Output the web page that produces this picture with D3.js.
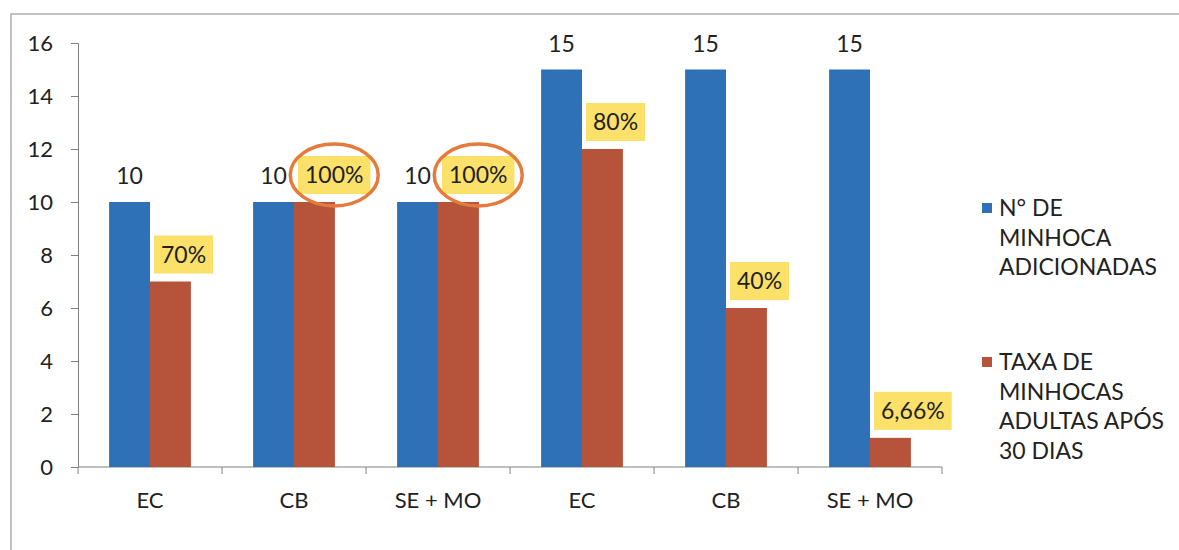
<!DOCTYPE html>
<html>
<head>
<meta charset="utf-8">
<script src="https://cdn.jsdelivr.net/npm/d3@7"></script>
<style>
  body { margin: 0; background: #fff; }
  svg { display: block; font-family: Lato, "Open Sans", sans-serif; }
</style>
</head>
<body>
<svg width="1179" height="550"></svg>
<script>
var categories = ['EC', 'CB', 'SE + MO', 'EC', 'CB', 'SE + MO'],
    added = [10, 10, 10, 15, 15, 15],
    adults = [7, 10, 10, 12, 6, 1.1],
    adultLabels = ['70%', '100%', '100%', '80%', '40%', '6,66%'],
    circled = [1, 2],
    yTicks = [0, 2, 4, 6, 8, 10, 12, 14, 16],
    seriesNames = [
        ['N° DE', 'MINHOCA', 'ADICIONADAS'],
        ['TAXA DE', 'MINHOCAS', 'ADULTAS APÓS', '30 DIAS']
    ];

var svg = d3.select('svg'),
    blue = '#2f71b6',
    red = '#b5533b',
    plotLeft = 78,
    plotRight = 942,
    plotTop = 43,
    plotBottom = 467;

// frame round the chart
svg.append('rect')
    .attr('x', 11).attr('y', 14)
    .attr('width', 1180).attr('height', 560)
    .attr('fill', 'none')
    .attr('stroke', '#999')
    .attr('stroke-width', 1.2);

var x = d3.scaleBand()
    .domain(d3.range(categories.length))
    .range([plotLeft, plotRight]);

var inner = d3.scaleBand()
    .domain([0, 1])
    .range([0, x.bandwidth()])
    .paddingOuter(0.76)
    .paddingInner(0);

var y = d3.scaleLinear()
    .domain([0, 16])
    .range([plotBottom, plotTop]);

// y axis
var yAxis = svg.append('g')
    .attr('transform', 'translate(' + plotLeft + ',0)')
    .call(d3.axisLeft(y).tickValues(yTicks).tickSize(7).tickPadding(18));
yAxis.select('.domain').attr('stroke', '#808080');
yAxis.selectAll('.tick line').attr('stroke', '#808080');
yAxis.selectAll('.tick text')
    .attr('font-size', 22)
    .attr('font-family', 'Lato, sans-serif')
    .attr('fill', '#222');

// x axis with ticks between the categories
var xAxis = svg.append('g')
    .attr('transform', 'translate(0,' + plotBottom + ')');
xAxis.append('line')
    .attr('x1', plotLeft).attr('x2', plotRight)
    .attr('stroke', '#808080');
xAxis.selectAll('.sep')
    .data(d3.range(categories.length + 1))
    .join('line')
    .attr('class', 'sep')
    .attr('x1', function (d) { return plotLeft + d * x.step(); })
    .attr('x2', function (d) { return plotLeft + d * x.step(); })
    .attr('y1', 0).attr('y2', 7)
    .attr('stroke', '#808080');
xAxis.selectAll('.cat')
    .data(categories)
    .join('text')
    .attr('class', 'cat')
    .attr('x', function (d, i) { return x(i) + x.bandwidth() / 2; })
    .attr('y', 33)
    .attr('dy', '0.35em')
    .attr('text-anchor', 'middle')
    .attr('font-size', 22)
    .attr('fill', '#222')
    .text(function (d) { return d; });

// bars
svg.selectAll('.blue')
    .data(added)
    .join('rect')
    .attr('class', 'blue')
    .attr('x', function (d, i) { return x(i) + inner(0); })
    .attr('y', function (d) { return y(d); })
    .attr('width', inner.bandwidth())
    .attr('height', function (d) { return y(0) - y(d); })
    .attr('fill', blue);

svg.selectAll('.red')
    .data(adults)
    .join('rect')
    .attr('class', 'red')
    .attr('x', function (d, i) { return x(i) + inner(1); })
    .attr('y', function (d) { return y(d); })
    .attr('width', inner.bandwidth())
    .attr('height', function (d) { return y(0) - y(d); })
    .attr('fill', red);

// value labels on the blue bars
svg.selectAll('.blueLabel')
    .data(added)
    .join('text')
    .attr('class', 'blueLabel')
    .attr('x', function (d, i) { return x(i) + inner(0) + inner.bandwidth() / 2; })
    .attr('y', function (d) { return y(d) - 26; })
    .attr('dy', '0.35em')
    .attr('text-anchor', 'middle')
    .attr('font-size', 23)
    .attr('fill', '#222')
    .text(function (d) { return d; });

// percentage labels on the red bars, in yellow boxes
var labels = svg.selectAll('.redLabel')
    .data(adults)
    .join('g')
    .attr('class', 'redLabel')
    .attr('transform', function (d, i) {
        return 'translate(' + (x(i) + inner(1) + 11) + ',' + (y(d) - 27) + ')';
    });

labels.append('rect').attr('fill', '#fbe06a');
labels.append('text')
    .attr('dy', '0.35em')
    .attr('font-size', 23)
    .attr('fill', '#222')
    .text(function (d, i) { return adultLabels[i]; });

labels.each(function () {
    var g = d3.select(this),
        box = g.select('text').node().getBBox();
    g.select('rect')
        .attr('x', box.x - 7)
        .attr('y', -19)
        .attr('width', box.width + 14)
        .attr('height', 38);
});

// orange rings round the highlighted labels
labels.filter(function (d, i) { return circled.indexOf(i) > -1; })
    .each(function () {
        var g = d3.select(this),
            box = g.select('text').node().getBBox();
        g.append('ellipse')
            .attr('cx', box.x + box.width / 2)
            .attr('cy', 0)
            .attr('rx', 44)
            .attr('ry', 31)
            .attr('fill', 'none')
            .attr('stroke', '#e57a3c')
            .attr('stroke-width', 3.5);
    });

// legend
var legend = svg.selectAll('.legend')
    .data(seriesNames)
    .join('g')
    .attr('class', 'legend')
    .attr('transform', function (d, i) { return 'translate(982,' + (i ? 362 : 208) + ')'; });

legend.append('rect')
    .attr('x', 0).attr('y', -5)
    .attr('width', 10).attr('height', 10)
    .attr('fill', function (d, i) { return i ? red : blue; });

legend.append('text')
    .attr('font-size', 23)
    .attr('fill', '#222')
    .selectAll('tspan')
    .data(function (d) { return d; })
    .join('tspan')
    .attr('x', 17)
    .attr('y', function (d, j) { return j * 29.5; })
    .attr('dy', '0.35em')
    .text(function (d) { return d; });
</script>
</body>
</html>
